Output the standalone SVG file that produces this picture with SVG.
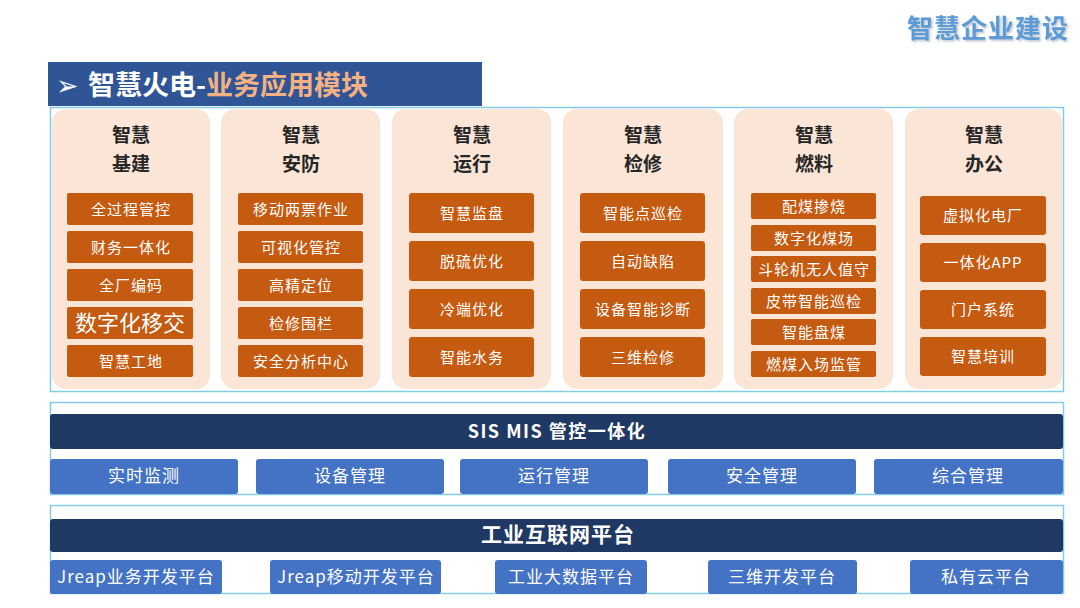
<svg xmlns="http://www.w3.org/2000/svg" width="1080" height="608" viewBox="0 0 1080 608">
<defs>
<style>
text{font-family:"Noto Sans CJK SC","Liberation Sans",sans-serif;}
.frame{fill:none;stroke:#86CBE6;stroke-width:1.5;}
.col{fill:#FBE5D6;}
.ct{font-size:19px;font-weight:bold;fill:#262626;text-anchor:middle;}
.it{fill:#C55A11;}
.itt{font-size:15px;fill:#FFFFFF;text-anchor:middle;letter-spacing:1px;}
.bar{fill:#203864;}
.bt{fill:#4472C4;}
.btt{font-size:17px;fill:#FFFFFF;text-anchor:middle;letter-spacing:1px;}
.bart{fill:#FFFFFF;text-anchor:middle;font-weight:bold;}
</style>
<filter id="sh" x="-10%" y="-20%" width="120%" height="150%">
<feDropShadow dx="1.5" dy="1.5" stdDeviation="0.8" flood-color="#9aa7b5" flood-opacity="0.7"/>
</filter>
</defs>
<rect width="1080" height="608" fill="#FFFFFF"/>

<g id="page-title">
<text x="1069" y="38" font-size="26" font-weight="bold" fill="#5B9BD5" text-anchor="end" filter="url(#sh)" letter-spacing="1">智慧企业建设</text>
</g>

<g id="section-title">
<rect x="48" y="62" width="434" height="44" fill="#2F5597"/>
<text x="56" y="95" font-size="27" fill="#FFFFFF">➢</text>
<text x="88" y="95" font-size="27" font-weight="bold" fill="#FFFFFF">智慧火电-<tspan fill="#F4B183">业务应用模块</tspan></text>
</g>

<g id="app-layer">
<rect class="frame" x="50.5" y="107.5" width="1013" height="284"/>
</g>

<g id="col-jijian">
<rect class="col" x="52" y="109" width="158" height="280" rx="14"/>
<text class="ct" x="131" y="142">智慧</text>
<text class="ct" x="131" y="171">基建</text>
<rect class="it" x="67" y="193" width="126" height="32" rx="2"/><text class="itt" x="131" y="214.5">全过程管控</text>
<rect class="it" x="67" y="231" width="126" height="32" rx="2"/><text class="itt" x="131" y="252.5">财务一体化</text>
<rect class="it" x="67" y="269" width="126" height="32" rx="2"/><text class="itt" x="131" y="290.5">全厂编码</text>
<rect class="it" x="67" y="307" width="126" height="32" rx="2"/><text x="130" y="330.5" font-size="22" fill="#FFFFFF" text-anchor="middle">数字化移交</text>
<rect class="it" x="67" y="345" width="126" height="32" rx="2"/><text class="itt" x="131" y="366.5">智慧工地</text>
</g>

<g id="col-anfang">
<rect class="col" x="221" y="109" width="159" height="280" rx="14"/>
<text class="ct" x="301" y="142">智慧</text>
<text class="ct" x="301" y="171">安防</text>
<rect class="it" x="238" y="193" width="125" height="32" rx="2"/><text class="itt" x="301" y="214.5">移动两票作业</text>
<rect class="it" x="238" y="231" width="125" height="32" rx="2"/><text class="itt" x="301" y="252.5">可视化管控</text>
<rect class="it" x="238" y="269" width="125" height="32" rx="2"/><text class="itt" x="301" y="290.5">高精定位</text>
<rect class="it" x="238" y="307" width="125" height="32" rx="2"/><text class="itt" x="301" y="328.5">检修围栏</text>
<rect class="it" x="238" y="345" width="125" height="32" rx="2"/><text class="itt" x="301" y="366.5">安全分析中心</text>
</g>

<g id="col-yunxing">
<rect class="col" x="392" y="109" width="159" height="280" rx="14"/>
<text class="ct" x="472" y="142">智慧</text>
<text class="ct" x="472" y="171">运行</text>
<rect class="it" x="409" y="193" width="125" height="40" rx="3"/><text class="itt" x="472" y="218.5">智慧监盘</text>
<rect class="it" x="409" y="241" width="125" height="40" rx="3"/><text class="itt" x="472" y="266.5">脱硫优化</text>
<rect class="it" x="409" y="289" width="125" height="40" rx="3"/><text class="itt" x="472" y="314.5">冷端优化</text>
<rect class="it" x="409" y="337" width="125" height="40" rx="3"/><text class="itt" x="472" y="362.5">智能水务</text>
</g>

<g id="col-jianxiu">
<rect class="col" x="563" y="109" width="160" height="280" rx="14"/>
<text class="ct" x="643" y="142">智慧</text>
<text class="ct" x="643" y="171">检修</text>
<rect class="it" x="580" y="193" width="125" height="40" rx="3"/><text class="itt" x="643" y="218.5">智能点巡检</text>
<rect class="it" x="580" y="241" width="125" height="40" rx="3"/><text class="itt" x="643" y="266.5">自动缺陷</text>
<rect class="it" x="580" y="289" width="125" height="40" rx="3"/><text class="itt" x="643" y="314.5">设备智能诊断</text>
<rect class="it" x="580" y="337" width="125" height="40" rx="3"/><text class="itt" x="643" y="362.5">三维检修</text>
</g>

<g id="col-ranliao">
<rect class="col" x="734" y="109" width="159" height="280" rx="14"/>
<text class="ct" x="814" y="142">智慧</text>
<text class="ct" x="814" y="171">燃料</text>
<rect class="it" x="751" y="193" width="125" height="26" rx="2"/><text class="itt" x="814" y="211.5">配煤掺烧</text>
<rect class="it" x="751" y="225" width="125" height="26" rx="2"/><text class="itt" x="814" y="243.5">数字化煤场</text>
<rect class="it" x="751" y="256" width="125" height="26" rx="2"/><text class="itt" x="814" y="274.5">斗轮机无人值守</text>
<rect class="it" x="751" y="288" width="125" height="26" rx="2"/><text class="itt" x="814" y="306.5">皮带智能巡检</text>
<rect class="it" x="751" y="319" width="125" height="26" rx="2"/><text class="itt" x="814" y="337.5">智能盘煤</text>
<rect class="it" x="751" y="351" width="125" height="26" rx="2"/><text class="itt" x="814" y="369.5">燃煤入场监管</text>
</g>

<g id="col-bangong">
<rect class="col" x="905" y="109" width="157" height="280" rx="14"/>
<text class="ct" x="984" y="142">智慧</text>
<text class="ct" x="984" y="171">办公</text>
<rect class="it" x="920" y="196" width="126" height="39" rx="3"/><text class="itt" x="983" y="221">虚拟化电厂</text>
<rect class="it" x="920" y="243" width="126" height="39" rx="3"/><text class="itt" x="983" y="268">一体化APP</text>
<rect class="it" x="920" y="290" width="126" height="39" rx="3"/><text class="itt" x="983" y="315">门户系统</text>
<rect class="it" x="920" y="337" width="126" height="39" rx="3"/><text class="itt" x="983" y="362">智慧培训</text>
</g>

<g id="sis-mis">
<rect class="frame" x="50.5" y="402.5" width="1013" height="92"/>
<rect class="bar" x="50" y="414" width="1013" height="35" rx="3"/>
<text class="bart" x="557" y="438" font-size="18" letter-spacing="1.5">SIS MIS 管控一体化</text>
<rect class="bt" x="50" y="459" width="188" height="35" rx="3"/><text class="btt" x="144" y="482">实时监测</text>
<rect class="bt" x="256" y="459" width="188" height="35" rx="3"/><text class="btt" x="350" y="482">设备管理</text>
<rect class="bt" x="460" y="459" width="188" height="35" rx="3"/><text class="btt" x="554" y="482">运行管理</text>
<rect class="bt" x="668" y="459" width="188" height="35" rx="3"/><text class="btt" x="762" y="482">安全管理</text>
<rect class="bt" x="874" y="459" width="189" height="35" rx="3"/><text class="btt" x="968" y="482">综合管理</text>
</g>

<g id="iiot-platform">
<rect class="frame" x="50.5" y="505.5" width="1013" height="88"/>
<rect class="bar" x="50" y="519" width="1013" height="33" rx="3"/>
<text class="bart" x="558" y="542" font-size="21" letter-spacing="1">工业互联网平台</text>
<rect class="bt" x="50" y="560" width="172" height="34" rx="3"/><text class="btt" x="136" y="583" letter-spacing="0.5">Jreap业务开发平台</text>
<rect class="bt" x="270" y="560" width="171" height="34" rx="3"/><text class="btt" x="356" y="583" letter-spacing="0.5">Jreap移动开发平台</text>
<rect class="bt" x="495" y="560" width="152" height="34" rx="3"/><text class="btt" x="571" y="583">工业大数据平台</text>
<rect class="bt" x="708" y="560" width="149" height="34" rx="3"/><text class="btt" x="782" y="583">三维开发平台</text>
<rect class="bt" x="910" y="560" width="153" height="34" rx="3"/><text class="btt" x="986" y="583">私有云平台</text>
</g>
</svg>
